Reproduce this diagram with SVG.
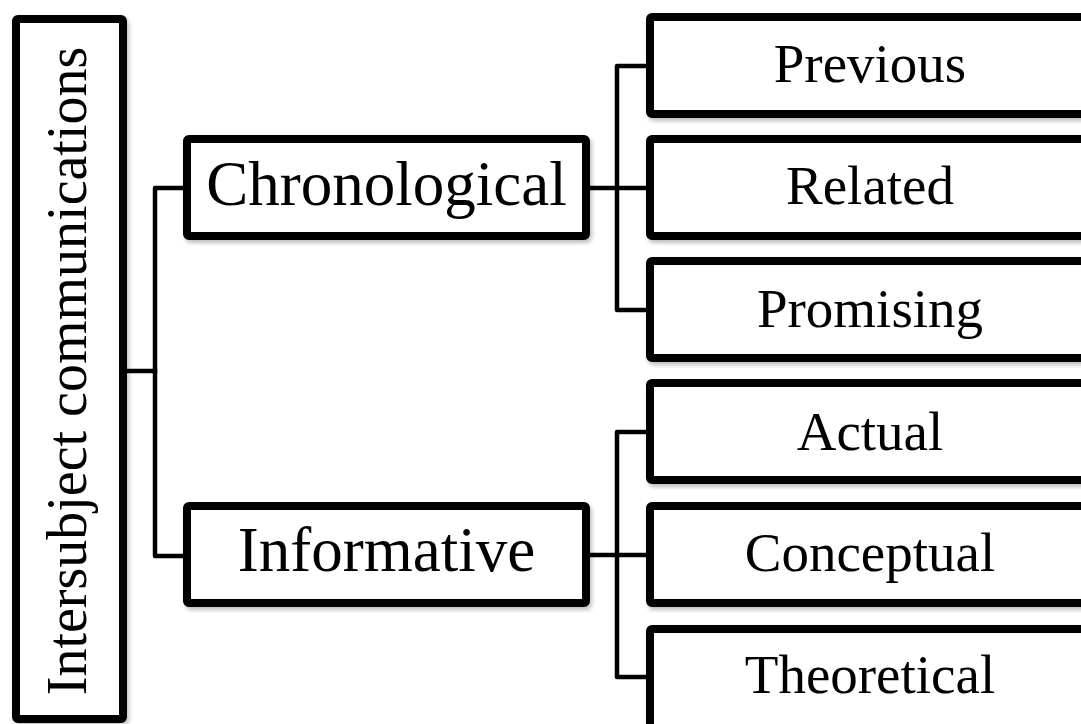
<svg xmlns="http://www.w3.org/2000/svg" width="1081" height="724" viewBox="0 0 1081 724">
<defs>
<filter id="sh" x="-5%" y="-5%" width="115%" height="115%">
<feDropShadow dx="2" dy="3" stdDeviation="2" flood-color="#000" flood-opacity="0.25"/>
</filter>
<style>
.box{fill:#fff;stroke:#000;stroke-width:8;stroke-linejoin:round;filter:url(#sh)}
.lbl{font-family:"Liberation Serif","Times New Roman",serif;fill:#000;text-anchor:middle}
.mid{font-size:63px}
.leaf{font-size:55px}
.root{font-size:56px}
.conn{fill:none;stroke:#000;stroke-width:4.5;stroke-linejoin:round;stroke-linecap:square}
</style>
</defs>
<rect width="1081" height="724" fill="#fff"/>
<g id="connectors">
<path class="conn" d="M127 371 H155"/>
<path class="conn" d="M183 188 H155 V556 H183"/>
<path class="conn" d="M590 188 H646"/>
<path class="conn" d="M646 66 H617 V310 H646"/>
<path class="conn" d="M590 555 H646"/>
<path class="conn" d="M646 432 H617 V677 H646"/>
</g>
<g id="root">
<rect class="box" x="16" y="19" width="107" height="700" rx="2"/>
<text class="lbl root" transform="translate(86,371) rotate(-90)">Intersubject communications</text>
</g>
<g id="chronological">
<rect class="box" x="187" y="139" width="399" height="97" rx="2"/>
<text class="lbl mid" x="386.5" y="205">Chronological</text>
</g>
<g id="informative">
<rect class="box" x="187" y="506" width="399" height="97" rx="2"/>
<text class="lbl mid" x="386.5" y="571">Informative</text>
</g>
<g id="previous">
<rect class="box" x="650" y="17" width="440" height="97" rx="2"/>
<text class="lbl leaf" x="870" y="82">Previous</text>
</g>
<g id="related">
<rect class="box" x="650" y="139" width="440" height="97" rx="2"/>
<text class="lbl leaf" x="870" y="204">Related</text>
</g>
<g id="promising">
<rect class="box" x="650" y="261" width="440" height="97" rx="2"/>
<text class="lbl leaf" x="870" y="327">Promising</text>
</g>
<g id="actual">
<rect class="box" x="650" y="383" width="440" height="97" rx="2"/>
<text class="lbl leaf" x="870" y="450">Actual</text>
</g>
<g id="conceptual">
<rect class="box" x="650" y="506" width="440" height="97" rx="2"/>
<text class="lbl leaf" x="870" y="571">Conceptual</text>
</g>
<g id="theoretical">
<rect class="box" x="650" y="629" width="440" height="110" rx="2"/>
<text class="lbl leaf" x="870" y="693">Theoretical</text>
</g>
</svg>
